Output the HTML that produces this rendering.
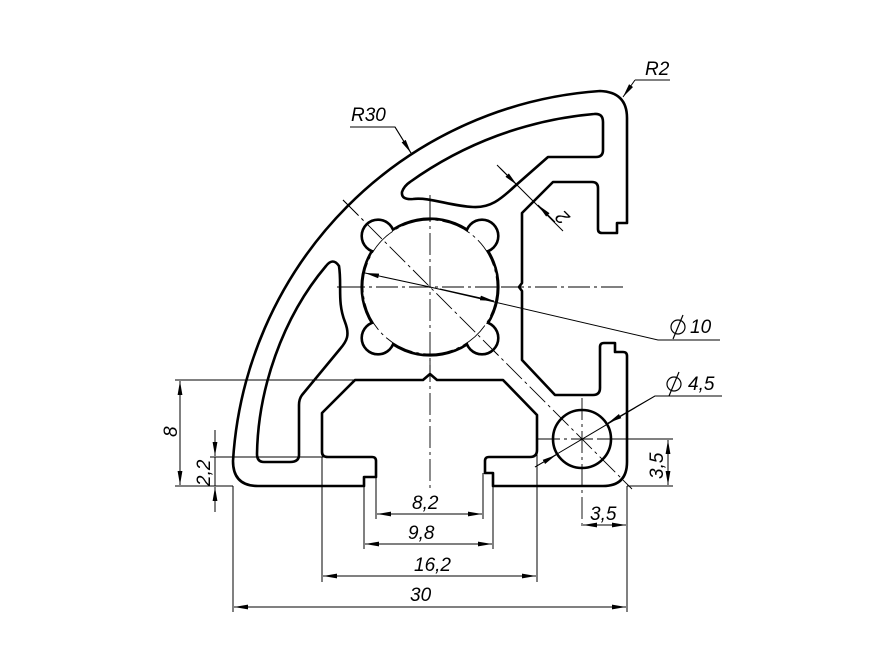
<!DOCTYPE html>
<html><head><meta charset="utf-8"><style>
html,body{margin:0;padding:0;background:#fff}
svg{display:block}
text{font-family:"Liberation Sans",sans-serif;font-style:italic;font-size:19px;fill:#000}
</style></head><body>
<svg width="880" height="660" viewBox="0 0 880 660" xmlns="http://www.w3.org/2000/svg">
<defs>
<marker id="a" viewBox="0 0 14 6" refX="14" refY="3" markerWidth="14" markerHeight="6" orient="auto" markerUnits="userSpaceOnUse">
<path d="M0,0.6 L14,3 L0,5.4 Z" fill="#000"/></marker>
<marker id="s" viewBox="0 0 14 6" refX="0" refY="3" markerWidth="14" markerHeight="6" orient="auto" markerUnits="userSpaceOnUse">
<path d="M14,0.6 L0,3 L14,5.4 Z" fill="#000"/></marker>
</defs>
<rect width="880" height="660" fill="#fff"/>

<g stroke="#000" stroke-width="1" fill="none">
<line x1="175" y1="380" x2="357" y2="380"/>
<line x1="175" y1="486" x2="233" y2="486"/>
<line x1="210" y1="457" x2="330" y2="457"/>
<line x1="233" y1="486" x2="233" y2="612"/>
<line x1="322" y1="457" x2="322" y2="582"/>
<line x1="364" y1="486" x2="364" y2="549"/>
<line x1="376" y1="477" x2="376" y2="519"/>
<line x1="483" y1="473" x2="483" y2="519"/>
<line x1="493" y1="486" x2="493" y2="549"/>
<line x1="537" y1="452" x2="537" y2="582"/>
<line x1="627" y1="486" x2="627" y2="612"/>
<line x1="627" y1="486" x2="673" y2="486"/>
<line x1="600" y1="439" x2="673" y2="439"/>
</g>

<g stroke="#000" stroke-width="0.9" fill="none" stroke-dasharray="22,4,3,4">
<line x1="430" y1="195" x2="430" y2="492"/>
<line x1="337" y1="287" x2="627" y2="287"/>
<line x1="343" y1="200" x2="632" y2="489"/>
<line x1="582" y1="398" x2="582" y2="530"/>
<line x1="538" y1="439" x2="600" y2="439"/>
</g>

<g stroke="#000" stroke-width="2.6" fill="none" stroke-linejoin="round">
<path d="M258,486 Q233,486 233,461 A395 395 0 0 1 600,91 Q627,92 627,118 L627,223 L617,223 L617,233 L602,233 Q598,233 598,229 L598,188 Q598,182 592,182 L553,182 L522,213 L522,283 L519,287 L522,291 L522,360 L555,395 L593,395 Q600,395 600,388 L600,347 Q600,343 604,343 L615,343 L615,352 L623,352 Q627,352 627,356 L627,462 Q627,486 603,486 L493,486 L493,473 L485,473 L485,461 Q485,457 489,457 L530,457 Q537,457 537,450 L537,415 L503,380 L437,380 L430,374 L423,380 L355,380 L322,413 L322,452 Q322,457 328,457 L372,457 Q376,457 376,461 L376,477 L364,477 L364,486 Z"/>
<path d="M290,462 L264,462 Q257,462 257,454 C258,390 282,318 326,266 Q333,257 339,266 C342,285 337,302 345,322 C350,335 347,341 340,349 L302,395 Q299,399 299,405 L299,455 Q299,462 290,462 Z"/>
<path d="M410,182 A372 372 0 0 1 594,114 Q603,113 603,122 L603,150 Q603,157 596,157 L548,157 L515,186 C500,200 490,208 473,207 C450,206 430,197 413,199 Q401,200 402,192 Q404,186 410,182 Z"/>
<circle cx="582" cy="439" r="29"/>
</g>
<g stroke="#000" stroke-width="5.2" fill="none">
<circle cx="430" cy="287" r="67"/>
<circle cx="378" cy="236" r="15"/><circle cx="482" cy="236" r="15"/>
<circle cx="378" cy="338" r="15"/><circle cx="482" cy="338" r="15"/>
</g>
<g fill="#fff">
<circle cx="430" cy="287" r="67"/>
<circle cx="378" cy="236" r="15"/><circle cx="482" cy="236" r="15"/>
<circle cx="378" cy="338" r="15"/><circle cx="482" cy="338" r="15"/>
</g>
<g stroke="#000" stroke-width="0.9" fill="none">
<circle cx="430" cy="287" r="67" stroke-dasharray="30,4,3,4"/>
<line x1="430" y1="200" x2="430" y2="374" stroke-dasharray="22,4,3,4"/>
<line x1="343" y1="287" x2="519" y2="287" stroke-dasharray="22,4,3,4"/>
<line x1="343" y1="200" x2="500" y2="357" stroke-dasharray="22,4,3,4"/>
</g>

<g stroke="#000" stroke-width="1" fill="none">
<line x1="180" y1="381" x2="180" y2="485" marker-start="url(#s)" marker-end="url(#a)"/>
<line x1="215" y1="430" x2="215" y2="456" marker-end="url(#a)"/>
<line x1="215" y1="512" x2="215" y2="487" marker-end="url(#a)"/>
<line x1="215" y1="457" x2="215" y2="486"/>
<line x1="377" y1="514" x2="482" y2="514" marker-start="url(#s)" marker-end="url(#a)"/>
<line x1="365" y1="544" x2="492" y2="544" marker-start="url(#s)" marker-end="url(#a)"/>
<line x1="323" y1="576" x2="536" y2="576" marker-start="url(#s)" marker-end="url(#a)"/>
<line x1="234" y1="607" x2="626" y2="607" marker-start="url(#s)" marker-end="url(#a)"/>
<line x1="583" y1="525" x2="626" y2="525" marker-start="url(#s)" marker-end="url(#a)"/>
<line x1="668" y1="440" x2="668" y2="485" marker-start="url(#s)" marker-end="url(#a)"/>
<polyline points="350,127 395,127 411,153"/>
<line x1="395" y1="127" x2="411" y2="153" marker-end="url(#a)"/>
<polyline points="670,80 635,80"/>
<line x1="635" y1="80" x2="623" y2="97" marker-end="url(#a)"/>
<line x1="497" y1="165" x2="563" y2="231"/>
<line x1="500" y1="168" x2="517" y2="185" marker-end="url(#a)"/>
<line x1="555" y1="222" x2="538" y2="205" marker-end="url(#a)"/>
<line x1="430" y1="287" x2="365" y2="273" marker-end="url(#a)"/>
<polyline points="430,287 658,340 720,340"/>
<line x1="440" y1="289" x2="494" y2="301" marker-end="url(#a)"/>
<polyline points="722,396 655,396 535,467"/>
<line x1="655" y1="396" x2="608" y2="423" marker-end="url(#a)"/>
<line x1="535" y1="467" x2="556" y2="455" marker-end="url(#a)"/>
</g>

<text x="351" y="121">R30</text>
<text x="645" y="75">R2</text>
<text x="690" y="333">10</text>
<text x="688" y="390">4,5</text>
<g stroke="#000" stroke-width="1.2" fill="none">
<circle cx="678" cy="327" r="7"/><line x1="673" y1="339" x2="683" y2="315"/>
<circle cx="674" cy="384" r="7"/><line x1="669" y1="396" x2="679" y2="372"/>
</g>
<text x="412" y="509">8,2</text>
<text x="408" y="539">9,8</text>
<text x="414" y="571">16,2</text>
<text x="410" y="601">30</text>
<text x="590" y="520">3,5</text>
<text transform="translate(177,437) rotate(-90)">8</text>
<text transform="translate(210,486) rotate(-90)">2,2</text>
<text transform="translate(663,479) rotate(-90)">3,5</text>
<text transform="translate(567,213) rotate(-135)" text-anchor="middle">2</text>
</svg>
</body></html>
